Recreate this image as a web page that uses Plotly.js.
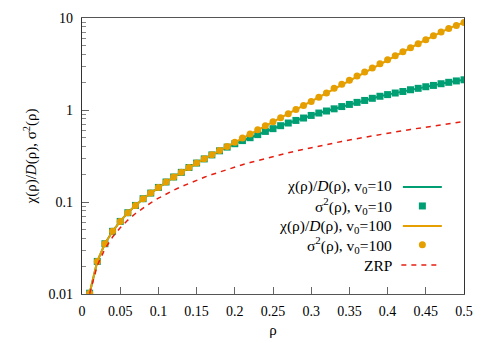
<!DOCTYPE html>
<html>
<head>
<meta charset="utf-8">
<script src="https://cdn.plot.ly/plotly-3.0.1.min.js"></script>
<style>html,body{margin:0;padding:0;background:#fff}#chart{width:491px;height:343px}</style>
</head>
<body>
<div id="chart"></div>
<script>
const rho = [0.01,0.02,0.03,0.04,0.05,0.06,0.07,0.08,0.09,0.10,
             0.11,0.12,0.13,0.14,0.15,0.16,0.17,0.18,0.19,0.20,
             0.21,0.22,0.23,0.24,0.25,0.26,0.27,0.28,0.29,0.30,
             0.31,0.32,0.33,0.34,0.35,0.36,0.37,0.38,0.39,0.40,
             0.41,0.42,0.43,0.44,0.45,0.46,0.47,0.48,0.49,0.50];

const chiD_v10 = [0.0102,0.0226,0.0352,0.048,0.0615,0.0765,0.0918,0.1086,0.125,0.144,
                  0.165,0.187,0.21,0.237,0.265,0.294,0.325,0.36,0.395,0.43,
                  0.465,0.50,0.54,0.585,0.627,0.675,0.722,0.77,0.818,0.873,
                  0.927,0.975,1.03,1.09,1.15,1.21,1.27,1.34,1.41,1.47,
                  1.53,1.59,1.66,1.72,1.79,1.85,1.93,2.00,2.07,2.13];
const sigma2_v10 = [0.0102,0.0226,0.0352,0.048,0.0615,0.0765,0.0918,0.1086,0.125,0.144,
                  0.165,0.187,0.21,0.237,0.265,0.294,0.325,0.36,0.395,0.43,
                  0.465,0.50,0.54,0.585,0.627,0.675,0.722,0.77,0.818,0.873,
                  0.927,0.975,1.03,1.09,1.15,1.21,1.27,1.34,1.41,1.47,
                  1.53,1.59,1.66,1.72,1.79,1.85,1.93,2.00,2.07,2.13];
const chiD_v100 = [0.0102,0.0226,0.0352,0.048,0.0615,0.0765,0.0918,0.1086,0.125,0.144,
                   0.165,0.187,0.21,0.237,0.265,0.295,0.327,0.364,0.402,0.445,
                   0.495,0.550,0.610,0.675,0.746,0.825,0.912,1.01,1.12,1.24,
                   1.38,1.53,1.72,1.90,2.10,2.34,2.59,2.86,3.18,3.52,
                   3.89,4.30,4.75,5.25,5.80,6.40,7.05,7.70,8.30,8.96];
const sigma2_v100 = [0.0102,0.0226,0.0352,0.048,0.0615,0.0765,0.0918,0.1086,0.125,0.144,
                   0.165,0.187,0.21,0.237,0.265,0.295,0.327,0.364,0.402,0.445,
                   0.495,0.550,0.610,0.675,0.746,0.825,0.912,1.01,1.12,1.24,
                   1.38,1.53,1.72,1.90,2.10,2.34,2.59,2.86,3.18,3.52,
                   3.89,4.30,4.75,5.25,5.80,6.40,7.05,7.70,8.30,8.96];
const zrp = [0.0101,0.0204,0.0309,0.0416,0.0525,0.0636,0.0749,0.0864,0.0981,0.11,
             0.1221,0.1344,0.1469,0.1596,0.1725,0.1856,0.1989,0.2124,0.2261,0.24,
             0.2541,0.2684,0.2829,0.2976,0.3125,0.3276,0.3429,0.3584,0.3741,0.39,
             0.4061,0.4224,0.4389,0.4556,0.4725,0.4896,0.5069,0.5244,0.5421,0.56,
             0.5781,0.5964,0.6149,0.6336,0.6525,0.6716,0.6909,0.7104,0.7301,0.75];

const xTicks = [0,0.05,0.1,0.15,0.2,0.25,0.3,0.35,0.4,0.45,0.5];
const xTickText = ['0','0.05','0.1','0.15','0.2','0.25','0.3','0.35','0.4','0.45','0.5'];
const yTicks = [0.01,0.1,1,10];
const yTickText = ['0.01','0.1','1','10'];
const legendLabels = ['χ(ρ)/<i>D</i>(ρ), v<sub>0</sub>=10',
                      'σ<sup>2</sup>(ρ), v<sub>0</sub>=10',
                      'χ(ρ)/<i>D</i>(ρ), v<sub>0</sub>=100',
                      'σ<sup>2</sup>(ρ), v<sub>0</sub>=100',
                      'ZRP'];

const GREEN = '#009e73', ORANGE = '#e69f00', RED = '#e51e10';
const FONT = 'Liberation Serif';

const minorY = [];
[0.01,0.1,1].forEach(d => { for (let k = 2; k <= 9; k++) minorY.push(+(d*k).toPrecision(3)); });

const traces = [
  {x: rho, y: chiD_v10, mode: 'lines', line: {color: GREEN, width: 2}, name: legendLabels[0]},
  {x: rho, y: sigma2_v10, mode: 'markers', marker: {color: GREEN, symbol: 'square', size: 7}, name: legendLabels[1]},
  {x: rho, y: chiD_v100, mode: 'lines', line: {color: ORANGE, width: 2}, name: legendLabels[2]},
  {x: rho, y: sigma2_v100, mode: 'markers', marker: {color: ORANGE, symbol: 'circle', size: 7}, name: legendLabels[3]},
  {x: rho, y: zrp, mode: 'lines', line: {color: RED, width: 1.5, dash: '5px,5px'}, name: legendLabels[4]}
];

// custom legend (text right-aligned, sample on the right like gnuplot)
const legY = [0.388, 0.319, 0.246, 0.178, 0.105];
const annotations = legendLabels.map((t, i) => ({
  xref: 'paper', yref: 'paper', x: 0.816, y: legY[i], xanchor: 'right', yanchor: 'middle',
  text: t, showarrow: false, font: {family: FONT, size: 15.5, color: '#000'}
}));
const shapes = [
  {type: 'line', xref: 'paper', yref: 'paper', x0: 0.840, x1: 0.942, y0: legY[0], y1: legY[0], line: {color: GREEN, width: 2}},
  {type: 'rect', xref: 'paper', yref: 'paper', xsizemode: 'pixel', ysizemode: 'pixel', xanchor: 0.891, yanchor: legY[1],
   x0: -3.5, x1: 3.5, y0: -3.5, y1: 3.5, fillcolor: GREEN, line: {width: 0}},
  {type: 'line', xref: 'paper', yref: 'paper', x0: 0.840, x1: 0.942, y0: legY[2], y1: legY[2], line: {color: ORANGE, width: 2}},
  {type: 'circle', xref: 'paper', yref: 'paper', xsizemode: 'pixel', ysizemode: 'pixel', xanchor: 0.891, yanchor: legY[3],
   x0: -3.5, x1: 3.5, y0: -3.5, y1: 3.5, fillcolor: ORANGE, line: {width: 0}},
  {type: 'line', xref: 'paper', yref: 'paper', x0: 0.836, x1: 0.93, y0: legY[4], y1: legY[4], line: {color: RED, width: 1.5, dash: '5px,5px'}}
];

const layout = {
  width: 491, height: 343,
  margin: {l: 82, r: 27, t: 18, b: 49},
  paper_bgcolor: '#fff', plot_bgcolor: '#fff',
  showlegend: false,
  font: {family: FONT, size: 14, color: '#000'},
  xaxis: {
    range: [0, 0.5], tickvals: xTicks, ticktext: xTickText,
    ticks: 'inside', ticklen: 7, tickcolor: '#666', tickwidth: 1,
    showline: true, linecolor: '#555', linewidth: 1.2, mirror: true,
    showgrid: false, zeroline: false, ticklabelstandoff: 4,
    title: {text: 'ρ', font: {family: FONT, size: 15}, standoff: 6},
    tickfont: {family: FONT, size: 14, color: '#000'}
  },
  yaxis: {
    type: 'log', range: [-2, 1], tickvals: yTicks, ticktext: yTickText,
    ticks: 'inside', ticklen: 7, tickcolor: '#666', tickwidth: 1,
    minor: {tickvals: minorY, ticks: 'inside', ticklen: 4, tickcolor: '#888', showgrid: false},
    showline: true, linecolor: '#333', linewidth: 1.2, mirror: true,
    showgrid: false, zeroline: false, ticklabelstandoff: 5,
    title: {text: 'χ(ρ)/<i>D</i>(ρ), σ<sup>2</sup>(ρ)', font: {family: FONT, size: 15}, standoff: 8},
    tickfont: {family: FONT, size: 14, color: '#000'}
  },
  annotations: annotations,
  shapes: shapes
};

Plotly.newPlot('chart', traces, layout, {displayModeBar: false});
</script>
</body>
</html>
